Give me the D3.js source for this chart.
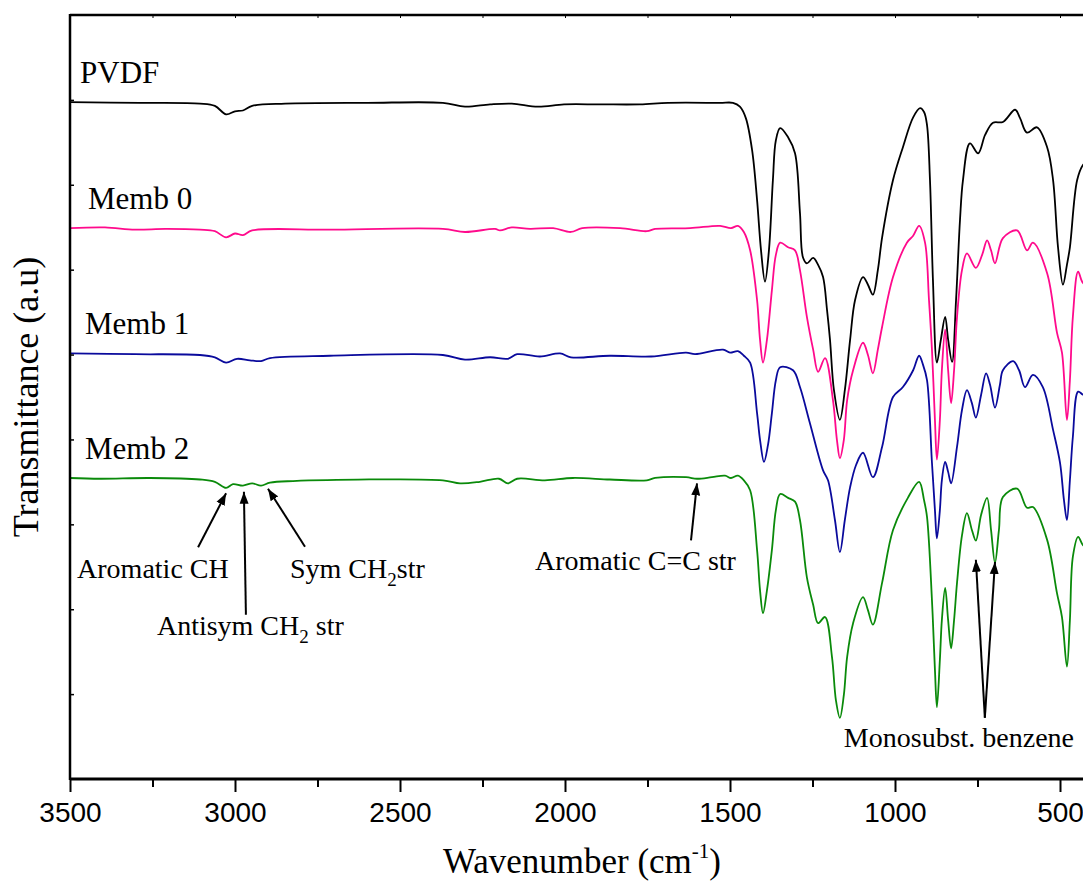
<!DOCTYPE html>
<html>
<head>
<meta charset="utf-8">
<script src="https://cdn.jsdelivr.net/npm/d3@7"></script>
<style>
  html, body { margin: 0; padding: 0; background: #fff; }
  svg { display: block; }
</style>
</head>
<body>
<div id="chart"></div>
<script>
// FTIR spectra: wavenumber (cm-1) vs offset transmittance (a.u., 0-100 scale)
const pvdf = [
  [3500, 88.6], [3288, 88.5], [3106, 88.4], [3061, 88.1], [3027, 87.0], [3000, 87.4], [2976, 87.5],
  [2948, 88.1], [2848, 88.4], [2600, 88.5], [2370, 88.5], [2303, 88.0], [2227, 88.3], [2161, 88.4],
  [2082, 88.0], [2003, 88.3], [1894, 88.3], [1773, 88.3], [1688, 88.5], [1530, 88.5], [1491, 88.5],
  [1470, 88.0], [1452, 86.5], [1433, 82.3], [1418, 75.8], [1406, 69.2], [1394, 65.1], [1382, 69.2],
  [1370, 78.4], [1361, 83.6], [1348, 85.2], [1324, 84.0], [1303, 81.9], [1288, 74.1], [1279, 68.3],
  [1267, 67.5], [1248, 68.2], [1233, 67.3], [1218, 65.7], [1206, 61.4], [1197, 57.5], [1185, 50.9],
  [1167, 47.0], [1152, 50.9], [1136, 57.5], [1121, 62.7], [1097, 65.7], [1082, 64.7], [1067, 63.4],
  [1052, 66.6], [1039, 70.9], [1006, 78.4], [976, 82.7], [945, 86.6], [924, 87.8], [912, 87.3],
  [903, 85.6], [894, 78.4], [885, 65.3], [873, 54.5], [861, 57.5], [848, 60.5], [839, 57.5],
  [827, 54.6], [815, 62.7], [803, 73.2], [794, 78.4], [773, 83.2], [748, 81.9], [727, 84.3],
  [703, 85.9], [673, 86.0], [636, 87.6], [621, 86.5], [600, 84.6], [570, 85.3], [539, 82.7],
  [521, 78.4], [506, 69.6], [491, 64.7], [479, 67.3], [470, 69.6], [448, 78.4], [430, 80.4], [400, 81.5]
];

const memb0 = [
  [3500, 72.1], [3394, 72.2], [3303, 71.9], [3212, 72.0], [3106, 71.9], [3061, 71.7], [3027, 70.9],
  [3000, 71.4], [2976, 71.2], [2948, 71.8], [2712, 71.9], [2370, 72.0], [2303, 71.6], [2212, 72.0],
  [2197, 71.8], [2161, 72.2], [2106, 72.0], [2036, 72.1], [1982, 71.6], [1948, 72.1], [1833, 72.1],
  [1752, 71.7], [1727, 72.0], [1621, 72.1], [1530, 72.4], [1497, 72.1], [1476, 72.4], [1458, 71.6],
  [1439, 69.2], [1418, 62.7], [1409, 57.5], [1400, 54.5], [1388, 57.5], [1373, 64.0], [1361, 68.6],
  [1348, 70.2], [1324, 69.6], [1303, 69.2], [1288, 66.6], [1267, 60.5], [1248, 56.2], [1233, 53.3],
  [1212, 55.1], [1188, 49.6], [1176, 44.4], [1167, 42.0], [1155, 44.4], [1145, 49.6], [1127, 53.5],
  [1097, 57.1], [1082, 55.5], [1067, 53.1], [1052, 56.2], [1039, 59.2], [1006, 65.7], [964, 70.2],
  [945, 71.1], [927, 72.4], [909, 70.2], [897, 62.7], [888, 56.2], [879, 47.0], [873, 41.8],
  [864, 47.0], [858, 53.5], [848, 58.8], [839, 53.5], [830, 49.2], [821, 53.5], [812, 60.5],
  [797, 66.6], [782, 68.8], [755, 66.9], [736, 68.6], [721, 70.5], [709, 69.2], [697, 67.5],
  [673, 70.8], [630, 71.8], [600, 69.2], [582, 70.2], [539, 66.2], [509, 58.4], [494, 55.8],
  [479, 47.0], [470, 52.2], [461, 60.5], [445, 66.4], [430, 64.9], [400, 64.5]
];

const memb1 = [
  [3500, 55.7], [3303, 55.6], [3106, 55.5], [3061, 55.2], [3027, 54.5], [2994, 55.0], [2955, 54.8],
  [2921, 54.7], [2894, 55.1], [2712, 55.4], [2370, 55.5], [2303, 54.9], [2227, 55.2], [2173, 55.0],
  [2145, 55.6], [2076, 55.3], [2015, 55.7], [1982, 55.2], [1864, 55.4], [1739, 55.3], [1633, 55.8],
  [1606, 55.6], [1521, 56.2], [1500, 55.8], [1476, 56.0], [1458, 55.4], [1439, 54.5], [1418, 47.9],
  [1409, 44.4], [1397, 41.5], [1385, 43.7], [1373, 47.9], [1361, 52.2], [1348, 53.9], [1309, 53.5],
  [1288, 51.3], [1258, 46.6], [1218, 40.4], [1203, 39.1], [1182, 33.9], [1167, 29.7], [1152, 33.9],
  [1136, 38.2], [1118, 41.1], [1097, 42.7], [1067, 39.5], [1039, 43.5], [1006, 50.0], [976, 51.3],
  [945, 53.5], [927, 55.4], [915, 54.2], [903, 52.2], [888, 41.4], [879, 35.2], [873, 31.5],
  [864, 35.2], [858, 39.1], [848, 41.5], [839, 40.2], [830, 38.7], [812, 43.5], [797, 48.3],
  [782, 50.9], [767, 49.2], [755, 47.3], [739, 50.3], [724, 53.1], [712, 51.6], [697, 48.6],
  [682, 51.6], [673, 53.5], [642, 54.7], [624, 53.5], [606, 51.3], [582, 52.9], [552, 51.3],
  [521, 45.7], [500, 41.4], [488, 36.5], [479, 33.9], [470, 39.1], [461, 44.8], [445, 50.7],
  [430, 50.3], [400, 50.0]
];

const memb2 = [
  [3500, 39.4], [3409, 39.3], [3258, 39.4], [3106, 39.2], [3061, 38.9], [3027, 38.1], [3006, 38.6],
  [2976, 38.4], [2948, 38.7], [2921, 38.4], [2894, 38.8], [2824, 39.0], [2370, 39.1], [2318, 38.7],
  [2258, 38.9], [2200, 39.3], [2173, 38.7], [2145, 39.3], [2061, 39.1], [1976, 39.4], [1864, 39.2],
  [1752, 39.1], [1727, 39.4], [1633, 39.5], [1600, 39.3], [1555, 39.5], [1515, 39.7], [1497, 39.4],
  [1476, 39.7], [1458, 39.1], [1439, 37.8], [1418, 30.0], [1409, 24.7], [1400, 21.7], [1388, 24.7],
  [1373, 30.0], [1361, 35.2], [1348, 37.3], [1324, 36.8], [1303, 36.3], [1288, 33.9], [1267, 26.4],
  [1248, 22.8], [1233, 20.4], [1212, 21.2], [1191, 16.0], [1179, 10.3], [1167, 8.0], [1155, 11.0],
  [1145, 16.0], [1127, 20.4], [1097, 23.8], [1082, 22.1], [1067, 20.2], [1039, 25.7], [1006, 32.6],
  [961, 36.8], [927, 38.9], [912, 36.5], [903, 34.3], [888, 23.4], [879, 14.3], [873, 9.4],
  [864, 15.6], [858, 20.8], [848, 25.0], [839, 20.8], [830, 17.1], [821, 20.8], [812, 25.7],
  [797, 31.9], [782, 34.8], [767, 32.6], [755, 31.2], [739, 34.6], [721, 36.8], [709, 32.6],
  [697, 28.3], [685, 32.6], [673, 36.9], [630, 38.0], [600, 35.5], [582, 35.6], [539, 31.3],
  [509, 24.3], [494, 21.2], [479, 14.7], [470, 20.8], [461, 29.1], [445, 31.7], [430, 30.6], [400, 30.0]
];

const seriesNames = ['PVDF', 'Memb 0', 'Memb 1', 'Memb 2'];
const seriesColors = ['#000000', '#ff0a8c', '#0a0a9c', '#0a8a0a'];
const seriesData = [pvdf, memb0, memb1, memb2];

const xMajorTicks = [3500, 3000, 2500, 2000, 1500, 1000, 500];
const xMinorTicks = [3250, 2750, 2250, 1750, 1250, 750];

// peak annotations: target (wavenumber, value) + arrow tail / text offsets in px
const annotations = [
  { label: ['Aromatic CH'], wn: 3027, val: 37.4, tail: [-28, 54], text: [-149, 85] },
  { label: ['Antisym CH', '2', ' str'], wn: 2973, val: 37.6, tail: [2, 123], text: [-87, 143] },
  { label: ['Sym CH', '2', 'str'], wn: 2900, val: 38.0, tail: [37, 58], text: [22, 89] },
  { label: ['Aromatic C=C str'], wn: 1600, val: 38.7, tail: [-6, 57], text: [-162, 87] }
];
const monoTargets = [[755, 28.7], [697, 28.4]];

const width = 1083;
const height = 887;
const plotLeft = 70, plotTop = 15, plotBottom = 779, plotRight = 1100;

const svg = d3.select('#chart').append('svg')
  .attr('width', width)
  .attr('height', height);

const x = d3.scaleLinear().domain([3500, 500]).range([plotLeft, 1060]);
const y = d3.scaleLinear().domain([0, 100]).range([plotBottom, plotTop]);

const defs = svg.append('defs');
defs.append('clipPath')
  .attr('id', 'plot-clip')
  .append('rect')
  .attr('x', plotLeft).attr('y', plotTop)
  .attr('width', plotRight - plotLeft).attr('height', plotBottom - plotTop);

defs.append('marker')
  .attr('id', 'arrow')
  .attr('markerUnits', 'userSpaceOnUse')
  .attr('viewBox', '0 -5 12 10')
  .attr('refX', 12).attr('refY', 0)
  .attr('markerWidth', 12).attr('markerHeight', 10)
  .attr('orient', 'auto')
  .append('path')
  .attr('d', 'M0,-4.5L12,0L0,4.5Z')
  .attr('fill', '#000');

// --- Spectra ---
const line = d3.line()
  .x(d => x(d[0]))
  .y(d => y(d[1]))
  .curve(d3.curveCatmullRom.alpha(0.5));

svg.append('g')
  .attr('clip-path', 'url(#plot-clip)')
  .selectAll('path')
  .data(seriesData)
  .join('path')
  .attr('d', line)
  .attr('fill', 'none')
  .attr('stroke', (d, i) => seriesColors[i])
  .attr('stroke-width', 1.8)
  .attr('stroke-linejoin', 'round');

// series labels above each baseline
const labelDx = [10, 18, 15, 15];
svg.append('g')
  .selectAll('text')
  .data(seriesData)
  .join('text')
  .attr('x', (d, i) => x(d[0][0]) + labelDx[i])
  .attr('y', d => y(d[0][1]) - 19)
  .attr('font-family', '"Liberation Serif", "Times New Roman", serif')
  .attr('font-size', '31px')
  .attr('fill', '#000')
  .text((d, i) => seriesNames[i]);

// --- Axes ---
const axisG = svg.append('g');

const xAxis = d3.axisBottom(x).tickValues(xMajorTicks).tickSize(13).tickPadding(10).tickFormat(d3.format('d'));
const xAxisG = axisG.append('g')
  .attr('transform', `translate(0,${plotBottom})`)
  .call(xAxis);
xAxisG.select('.domain').remove();
xAxisG.selectAll('.tick line').attr('stroke-width', 2);
xAxisG.selectAll('.tick text')
  .attr('font-family', '"Liberation Sans", Arial, sans-serif')
  .attr('font-size', '28px')
  .attr('fill', '#000');

const xMinor = axisG.append('g')
  .attr('transform', `translate(0,${plotBottom})`)
  .call(d3.axisBottom(x).tickValues(xMinorTicks).tickSize(8).tickFormat(''));
xMinor.select('.domain').remove();
xMinor.selectAll('.tick line').attr('stroke-width', 2);

// top ticks, small and inward
const xTop = axisG.append('g')
  .attr('transform', `translate(0,${plotTop})`)
  .call(d3.axisBottom(x).tickValues(xMajorTicks.concat(xMinorTicks)).tickSize(3).tickFormat(''));
xTop.select('.domain').remove();

const yAxisG = axisG.append('g')
  .attr('transform', `translate(${plotLeft},0)`)
  .call(d3.axisRight(y).tickValues(d3.range(1, 9).map(k => k * 100 / 9)).tickSize(4).tickFormat(''));
yAxisG.select('.domain').remove();
yAxisG.selectAll('.tick line').attr('stroke-width', 1.5);

// frame lines
axisG.append('line').attr('x1', plotLeft).attr('x2', plotRight).attr('y1', plotBottom).attr('y2', plotBottom)
  .attr('stroke', '#000').attr('stroke-width', 3);
axisG.append('line').attr('x1', plotLeft).attr('x2', plotRight).attr('y1', plotTop).attr('y2', plotTop)
  .attr('stroke', '#000').attr('stroke-width', 2.5);
axisG.append('line').attr('x1', plotLeft).attr('x2', plotLeft).attr('y1', plotTop - 1).attr('y2', plotBottom + 1)
  .attr('stroke', '#000').attr('stroke-width', 2.5);

// axis titles
const xTitle = svg.append('text')
  .attr('x', 582)
  .attr('y', 873)
  .attr('text-anchor', 'middle')
  .attr('font-family', '"Liberation Serif", "Times New Roman", serif')
  .attr('font-size', '35px')
  .attr('fill', '#000');
xTitle.append('tspan').text('Wavenumber (cm');
xTitle.append('tspan').attr('font-size', '21px').attr('dy', -15).text('-1');
xTitle.append('tspan').attr('dy', 15).text(')');

svg.append('text')
  .attr('transform', `translate(38,${(plotTop + plotBottom) / 2}) rotate(-90)`)
  .attr('text-anchor', 'middle')
  .attr('font-family', '"Liberation Serif", "Times New Roman", serif')
  .attr('font-size', '36px')
  .attr('fill', '#000')
  .text('Transmittance (a.u)');

// --- Annotations ---
const annoG = svg.append('g');
const annoFont = '"Liberation Serif", "Times New Roman", serif';

annotations.forEach(a => {
  const tx = x(a.wn), ty = y(a.val);
  annoG.append('line')
    .attr('x1', tx + a.tail[0]).attr('y1', ty + a.tail[1])
    .attr('x2', tx).attr('y2', ty)
    .attr('stroke', '#000').attr('stroke-width', 2)
    .attr('marker-end', 'url(#arrow)');
  const t = annoG.append('text')
    .attr('x', tx + a.text[0]).attr('y', ty + a.text[1])
    .attr('font-family', annoFont)
    .attr('font-size', '28px')
    .attr('fill', '#000');
  a.label.forEach((part, i) => {
    const span = t.append('tspan').text(part);
    if (i === 1) span.attr('font-size', '19px').attr('dy', 8);
    if (i === 2) span.attr('dy', -8);
  });
});

// two arrows from one point for the monosubstituted benzene bands
const monoTail = [x(monoTargets[0][0]) + 9, y(monoTargets[0][1]) + 158];
monoTargets.forEach(m => {
  annoG.append('line')
    .attr('x1', monoTail[0]).attr('y1', monoTail[1])
    .attr('x2', x(m[0])).attr('y2', y(m[1]))
    .attr('stroke', '#000').attr('stroke-width', 2)
    .attr('marker-end', 'url(#arrow)');
});
annoG.append('text')
  .attr('x', x(monoTargets[0][0]) - 132)
  .attr('y', y(monoTargets[0][1]) + 187)
  .attr('font-family', annoFont)
  .attr('font-size', '28px')
  .attr('fill', '#000')
  .text('Monosubst. benzene');
</script>
</body>
</html>
